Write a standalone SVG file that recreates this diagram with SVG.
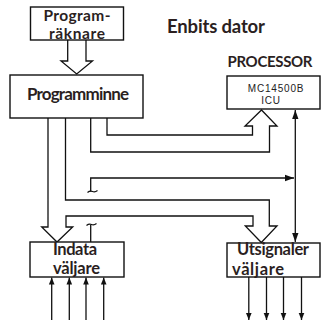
<svg xmlns="http://www.w3.org/2000/svg" width="324" height="322" viewBox="0 0 324 322">
<style>
.box{fill:#fff;stroke:#111;stroke-width:1.4}
.ln{fill:none;stroke:#111;stroke-width:1.3}
.bus{fill:#fff;stroke:#111;stroke-width:1.3;stroke-linejoin:miter}
.t{font-family:Lato,"Open Sans","Liberation Sans",sans-serif;font-weight:700;fill:#2b1f1f}
.s{font-family:"Liberation Sans",Arial,sans-serif;fill:#222;font-size:10px;letter-spacing:0.8px}
</style>
<defs>
<marker id="ah" viewBox="0 0 10 10" refX="10" refY="5" markerWidth="7" markerHeight="7" markerUnits="userSpaceOnUse" orient="auto-start-reverse">
<path d="M0,1 L10,5 L0,9 Z" fill="#111"/>
</marker>
<marker id="ah2" viewBox="0 0 10 10" refX="10" refY="5" markerWidth="9" markerHeight="9" markerUnits="userSpaceOnUse" orient="auto-start-reverse">
<path d="M0,1.5 L10,5 L0,8.5 Z" fill="#111"/>
</marker>
</defs>
<text class="t" x="216" y="33" font-size="18.5" text-anchor="middle" textLength="98">Enbits dator</text>
<text class="t" x="270" y="67" font-size="15" text-anchor="middle" textLength="85">PROCESSOR</text>
<g id="connectors">
<path class="bus" d="M67.7,40 V61 H61 L76.7,74 L92.5,61 H86 V40"/>
<path class="bus" d="M107,118 V135 H252.5 V126 H245 L261.5,110 L277,126 H269.5 V152 H90.7 V118"/>
<path class="bus" d="M48,118 V227 H41.7 L57,242 L72.7,227 H66 V216 H253 V226 H245.3 L261.3,242.5 L277,226 H269.3 V200 H65.5 V118"/>
<path class="ln" d="M90.7,191.5 V178 H294" marker-end="url(#ah2)"/>
<path class="ln" d="M87.5,192.5 q2.5,-2 5,-1 q2.5,1 5,-1"/>
<path class="ln" d="M90.7,242 V225"/>
<path class="ln" d="M86.5,225.5 q2.5,-2 5,-1 q2.5,1 5,-1"/>
<path class="ln" d="M295.3,110 V242" marker-start="url(#ah2)" marker-end="url(#ah2)"/>
<path class="ln" d="M51.7,320 V277.5" marker-end="url(#ah)"/>
<path class="ln" d="M69.3,320 V277.5" marker-end="url(#ah)"/>
<path class="ln" d="M86,320 V277.5" marker-end="url(#ah)"/>
<path class="ln" d="M103.7,320 V277.5" marker-end="url(#ah)"/>
<path class="ln" d="M248.8,277 V320" marker-end="url(#ah)"/>
<path class="ln" d="M266.5,277 V320" marker-end="url(#ah)"/>
<path class="ln" d="M283.5,277 V320" marker-end="url(#ah)"/>
<path class="ln" d="M301.5,277 V320" marker-end="url(#ah)"/>
</g>
<g id="programraknare">
<rect class="box" x="30.5" y="7" width="93" height="33"/>
<text class="t" x="77" y="20.5" font-size="15.5" text-anchor="middle" textLength="67">Program-</text>
<text class="t" x="77" y="38.5" font-size="15.5" text-anchor="middle" textLength="56">räknare</text>
</g>
<g id="programminne">
<rect class="box" x="10" y="75" width="133" height="43"/>
<text class="t" x="78" y="100" font-size="17" text-anchor="middle" textLength="102">Programminne</text>
</g>
<g id="processor">
<rect class="box" x="227" y="76" width="93" height="33"/>
<text class="s" x="276" y="92" text-anchor="middle">MC14500B</text>
<text class="s" x="271" y="103.5" text-anchor="middle">ICU</text>
</g>
<g id="indata">
<rect class="box" x="30" y="242" width="94" height="35"/>
<text class="t" x="75" y="254.5" font-size="16.5" text-anchor="middle" textLength="44">Indata</text>
<text class="t" x="76.5" y="274" font-size="16.5" text-anchor="middle" textLength="47">väljare</text>
</g>
<g id="utsignaler">
<rect class="box" x="227" y="243" width="93" height="34"/>
<text class="t" x="237" y="255" font-size="16.5" textLength="72">Utsignaler</text>
<text class="t" x="232" y="275" font-size="16.5" textLength="52">väljare</text>
</g>
</svg>
